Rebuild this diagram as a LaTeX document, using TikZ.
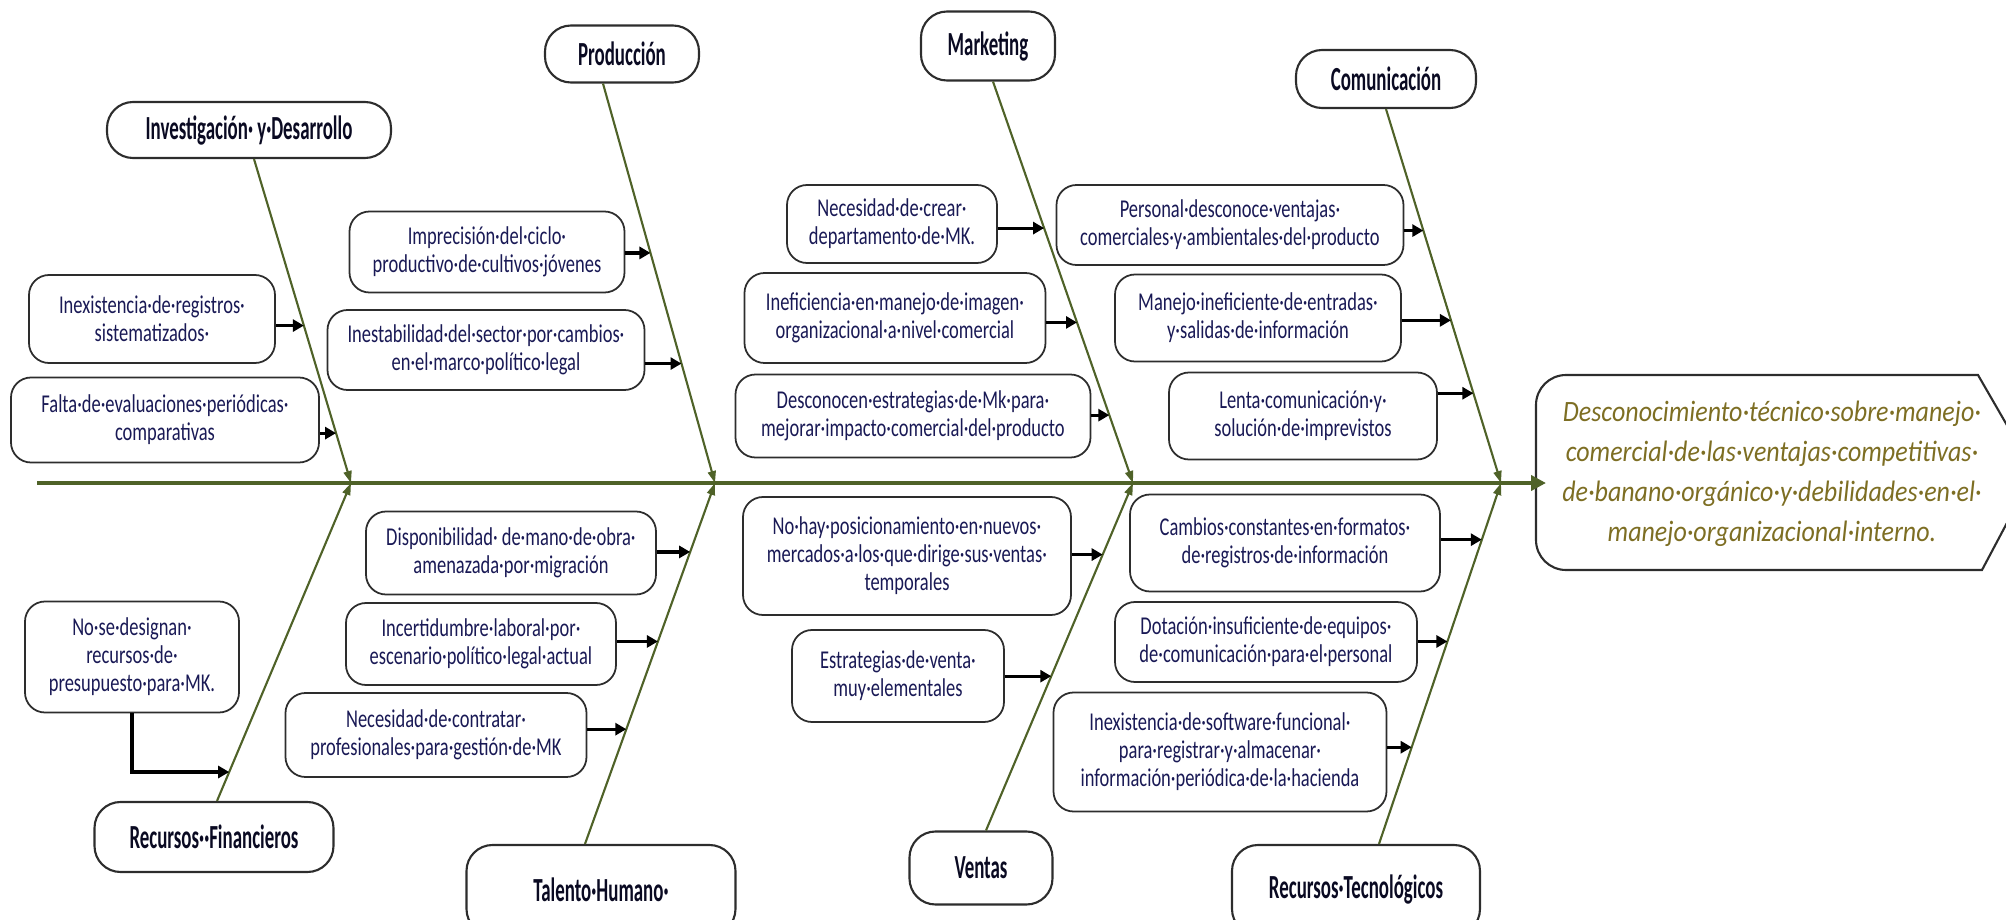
\documentclass[tikz,border=0pt]{standalone}
\usepackage{fontspec}
\setmainfont{Carlito}
\newfontfamily\causefont[FakeStretch=0.72]{Carlito}
\newfontfamily\catfont[FakeStretch=0.56]{Carlito}
\newfontfamily\effectfont[FakeStretch=0.88]{Carlito}
\usetikzlibrary{arrows.meta,calc}
\definecolor{BoneGreen}{RGB}{79,98,40}
\definecolor{CauseNavy}{RGB}{25,25,85}
\definecolor{EffectOlive}{RGB}{125,110,35}
\definecolor{EdgeGray}{RGB}{45,45,45}

\tikzset{
  cause/.style={draw=EdgeGray,line width=0.5pt,rounded corners=2mm,align=center,
    inner sep=0pt,text=CauseNavy,font={\causefont\fontsize{7.3}{8}\selectfont}},
  category/.style={draw=EdgeGray,line width=0.6pt,rounded corners=2.6mm,align=center,
    inner sep=0pt,text=CauseNavy!40!black,font={\catfont\bfseries\fontsize{9.6}{10}\selectfont}},
  bone/.style={BoneGreen,line width=0.6pt,-{Triangle[length=1.2mm,width=0.8mm]}},
  spine/.style={BoneGreen,line width=1.4pt,-{Triangle[length=1.5mm,width=1.5mm]}},
  causearrow/.style={black,line width=0.9pt,-{Triangle[length=1.1mm,width=1.2mm]}}
}

\begin{document}
\begin{tikzpicture}[x=0.1mm,y=-0.1mm]
\useasboundingbox (0,0) rectangle (2006,920);
\clip (0,0) rectangle (2006,920);

% effect
\draw[draw=EdgeGray,line width=0.6pt] (1700,375) -- (1978,375) -- (2034,472) -- (1982,570)
  -- (1700,570) [rounded corners=3mm] -- (1536,570) -- (1536,375) -- cycle;
\node[align=center,text=EffectOlive,font={\effectfont\itshape\fontsize{8.4}{11.4}\selectfont}]
  (effect) at (1772,474) {Desconocimiento·técnico·sobre·manejo·\\comercial·de·las·ventajas·competitivas·\\de·banano·orgánico·y·debilidades·en·el·\\manejo·organizacional·interno.};

% spine
\coordinate (tail) at (37,483);
\coordinate (head) at (1546,483);
\coordinate (s1) at (351,483);
\coordinate (s2) at (715,483);
\coordinate (s3) at (1133,483);
\coordinate (s4) at (1501,483);
\draw[spine] (tail) -- (head);

% categories
\node[category,minimum width=28.4mm,minimum height=5.6mm] (invdes) at (249,130) {Investigación· y·Desarrollo};
\node[category,minimum width=15.4mm,minimum height=5.7mm] (prod) at (622,54) {Producción};
\node[category,minimum width=13.4mm,minimum height=6.9mm] (mkt) at (988,46) {Marketing};
\node[category,minimum width=18mm,minimum height=5.8mm] (com) at (1386,79) {Comunicación};
\node[category,minimum width=23.9mm,minimum height=7mm] (recfin) at (214,837) {Recursos··Financieros};
\node[category,minimum width=26.9mm,minimum height=9mm] (talento) at (601,890) {Talento·Humano·};
\node[category,minimum width=14.3mm,minimum height=7.3mm] (ventas) at (981,868) {Ventas};
\node[category,minimum width=24.8mm,minimum height=9mm] (rectec) at (1356,890) {Recursos·Tecnológicos};

% bones
\draw[bone] ([xshift=0.5mm]invdes.south) -- (s1);
\draw[bone] ([xshift=-1.9mm]prod.south) -- (s2);
\draw[bone] ([xshift=0.5mm]mkt.south) -- (s3);
\draw[bone] (com.south) -- (s4);
\draw[bone] ([xshift=0.3mm]recfin.north) -- (s1);
\draw[bone] ([xshift=-1.6mm]talento.north) -- (s2);
\draw[bone] ([xshift=0.5mm]ventas.north) -- (s3);
\draw[bone] ([xshift=2.3mm]rectec.north) -- (s4);

% causes
\node[cause,minimum width=24.6mm,minimum height=8.8mm] (inexreg) at (152,319) {Inexistencia·de·registros·\\sistematizados·};
\node[cause,minimum width=30.8mm,minimum height=8.5mm] (falta) at (165,420) {Falta·de·evaluaciones·periódicas·\\comparativas};
\node[cause,minimum width=27.5mm,minimum height=8.1mm] (imprec) at (487,252) {Imprecisión·del·ciclo·\\productivo·de·cultivos·jóvenes};
\node[cause,minimum width=31.7mm,minimum height=8mm] (inestab) at (486,350) {Inestabilidad·del·sector·por·cambios·\\en·el·marco·político·legal};
\node[cause,minimum width=21mm,minimum height=7.8mm] (neccrear) at (892,224) {Necesidad·de·crear·\\departamento·de·MK.};
\node[cause,minimum width=30.1mm,minimum height=9mm] (inefic) at (895,318) {Ineficiencia·en·manejo·de·imagen·\\organizacional·a·nivel·comercial};
\node[cause,minimum width=35.5mm,minimum height=8.3mm] (descon) at (913,416) {Desconocen·estrategias·de·Mk·para·\\mejorar·impacto·comercial·del·producto};
\node[cause,minimum width=34.7mm,minimum height=8mm] (personal) at (1230,225) {Personal·desconoce·ventajas·\\comerciales·y·ambientales·del·producto};
\node[cause,minimum width=28.6mm,minimum height=8.7mm] (manejo) at (1258,318) {Manejo·ineficiente·de·entradas·\\y·salidas·de·información};
\node[cause,minimum width=26.8mm,minimum height=8.7mm] (lenta) at (1303,416) {Lenta·comunicación·y·\\solución·de·imprevistos};
\node[cause,minimum width=21.4mm,minimum height=11.1mm] (nose) at (132,657) {No·se·designan·\\recursos·de·\\presupuesto·para·MK.};
\node[cause,minimum width=29mm,minimum height=8.3mm] (dispon) at (511,553) {Disponibilidad· de·mano·de·obra·\\amenazada·por·migración};
\node[cause,minimum width=27mm,minimum height=8.2mm] (incert) at (481,644) {Incertidumbre·laboral·por·\\escenario·político·legal·actual};
\node[cause,minimum width=30.1mm,minimum height=8.4mm] (neccontr) at (436,735) {Necesidad·de·contratar·\\profesionales·para·gestión·de·MK};
\node[cause,minimum width=32.8mm,minimum height=11.8mm] (nohay) at (907,556) {No·hay·posicionamiento·en·nuevos·\\mercados·a·los·que·dirige·sus·ventas·\\temporales};
\node[cause,minimum width=21.2mm,minimum height=9.2mm] (estrat) at (898,676) {Estrategias·de·venta·\\muy·elementales};
\node[cause,minimum width=31mm,minimum height=9.7mm] (cambios) at (1285,543) {Cambios·constantes·en·formatos·\\de·registros·de·información};
\node[cause,minimum width=30.2mm,minimum height=8mm] (dotacion) at (1266,642) {Dotación·insuficiente·de·equipos·\\de·comunicación·para·el·personal};
\node[cause,minimum width=33.3mm,minimum height=11.9mm] (inexsoft) at (1220,752) {Inexistencia·de·software·funcional·\\para·registrar·y·almacenar·\\información·periódica·de·la·hacienda};

% points where the small arrows meet the bones
\foreach \p/\t in {p11/0.514,p12/0.846}
  \coordinate (\p) at ($([xshift=0.5mm]invdes.south)!\t!(s1)$);
\foreach \p/\t in {p21/0.424,p22/0.701}
  \coordinate (\p) at ($([xshift=-1.9mm]prod.south)!\t!(s2)$);
\foreach \p/\t in {p31/0.365,p32/0.600,p33/0.831}
  \coordinate (\p) at ($([xshift=0.5mm]mkt.south)!\t!(s3)$);
\foreach \p/\t in {p41/0.325,p42/0.565,p43/0.760}
  \coordinate (\p) at ($(com.south)!\t!(s4)$);
\coordinate (p51) at ($([xshift=0.3mm]recfin.north)!0.091!(s1)$);
\foreach \p/\t in {p61/0.809,p62/0.561,p63/0.318}
  \coordinate (\p) at ($([xshift=-1.6mm]talento.north)!\t!(s2)$);
\foreach \p/\t in {p71/0.794,p72/0.444}
  \coordinate (\p) at ($([xshift=0.5mm]ventas.north)!\t!(s3)$);
\foreach \p/\t in {p81/0.843,p82/0.561,p83/0.268}
  \coordinate (\p) at ($([xshift=2.3mm]rectec.north)!\t!(s4)$);

% small arrows
\foreach \c/\p in {inexreg/p11,falta/p12,imprec/p21,inestab/p22,neccrear/p31,inefic/p32,
  descon/p33,personal/p41,manejo/p42,lenta/p43,dispon/p61,incert/p62,neccontr/p63,
  nohay/p71,estrat/p72,cambios/p81,dotacion/p82,inexsoft/p83}
  \draw[causearrow] (\c.east |- \p) -- (\p);
\draw[causearrow] (nose.south) |- (p51);
\end{tikzpicture}
\end{document}
